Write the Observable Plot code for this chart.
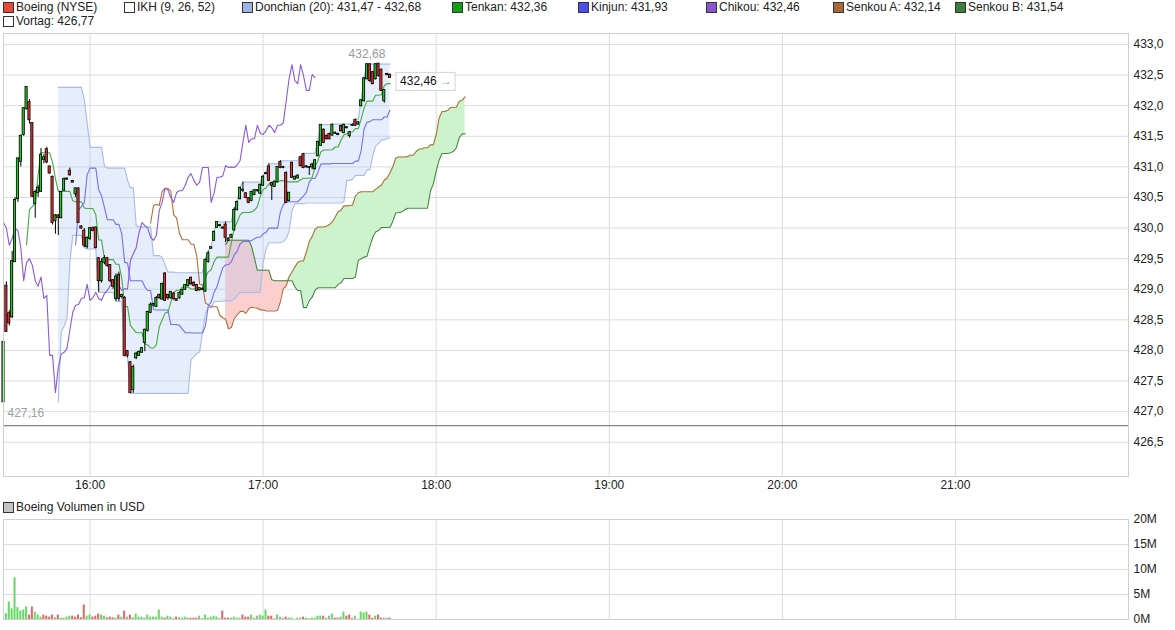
<!DOCTYPE html>
<html><head><meta charset="utf-8">
<script src="https://cdn.jsdelivr.net/npm/d3@7"></script>
<script src="https://cdn.jsdelivr.net/npm/@observablehq/plot@0.6"></script>
<style>
body{margin:0;background:#fff;font-family:"Liberation Sans",Arial,sans-serif;}
#wrap{position:relative;width:1175px;height:630px;overflow:hidden;}
.leg{position:absolute;font-size:12px;color:#222;white-space:nowrap;line-height:14px;z-index:3;}
.sq{position:absolute;width:9px;height:9px;border:1px solid #333;z-index:3;}
#main{position:absolute;left:0;top:0;}
#vol{position:absolute;left:0;top:500px;}
</style></head><body>
<div id="wrap"><div id="main"></div><div id="vol"></div></div>
<script>
// ---------- data ----------
const startUTC = Date.UTC(2024, 0, 2, 15, 30);
const endUTC = Date.UTC(2024, 0, 2, 22, 0);
const hours = [16, 17, 18, 19, 20, 21];
const prevClose = 426.77;
const yTicks = [426.5, 427, 427.5, 428, 428.5, 429, 429.5, 430, 430.5, 431, 431.5, 432, 432.5, 433];
const volTicks = [0, 5, 10, 15, 20];

const open = [
427.16,429.05,428.60,428.55,429.45,430.48,431.09,431.53,431.95,432.05,
431.71,430.40,430.58,430.60,431.12,431.28,431.00,430.83,430.12,430.20,
430.17,430.62,430.80,430.93,430.76,430.56,430.64,430.02,429.95,429.70,
429.83,429.99,430.00,429.50,429.14,429.44,429.50,429.39,429.14,428.85,
429.23,428.88,428.85,427.98,427.80,427.36,427.88,427.92,427.97,428.13,
428.33,428.62,428.74,428.72,428.90,428.84,429.25,428.90,428.86,428.92,
428.83,428.86,428.92,429.00,429.06,429.18,429.10,429.06,428.99,429.00,
428.97,429.45,429.67,429.80,430.01,430.04,430.00,430.05,429.82,429.85,
429.97,430.30,430.48,430.62,430.56,430.48,430.45,430.55,430.61,430.57,
430.70,430.89,431.00,430.73,430.68,430.76,431.07,430.99,430.89,430.45,
431.06,430.80,430.82,431.15,431.20,431.00,430.99,431.00,430.97,431.18,
431.35,431.60,431.50,431.53,431.52,431.55,431.53,431.66,431.56,431.64,
431.51,431.68,431.76,431.70,432.00,432.08,432.44,432.67,432.54,432.44,
432.68,432.58,432.08,432.51,432.50];
const high = [
428.13,429.12,428.65,429.62,430.50,431.15,431.52,431.97,432.30,432.10,
431.72,430.62,430.70,431.30,431.20,431.32,431.01,430.85,430.22,430.22,
430.60,430.82,430.82,430.98,430.78,430.66,430.66,430.04,429.99,429.86,
430.01,430.02,430.02,429.52,429.50,429.55,429.52,429.40,429.16,429.25,
429.28,428.92,428.88,428.00,427.82,427.76,427.97,427.99,428.05,428.35,
428.64,428.78,428.77,428.88,428.92,429.10,429.27,428.92,428.96,428.95,
428.84,428.96,429.00,429.08,429.16,429.20,429.12,429.08,429.02,429.02,
429.50,429.62,429.69,429.95,430.10,430.06,430.02,430.10,429.84,429.90,
430.33,430.44,430.67,430.75,430.58,430.50,430.60,430.63,430.63,430.72,
430.86,430.91,431.05,430.75,430.77,431.00,431.10,431.01,430.92,430.58,
431.08,430.85,430.87,431.17,431.22,431.02,431.00,431.06,431.12,431.42,
431.69,431.62,431.52,431.55,431.70,431.57,431.55,431.68,431.70,431.66,
431.58,431.70,431.78,431.74,432.10,432.46,432.68,432.68,432.56,432.68,
432.68,432.60,432.25,432.53,432.51];
const low = [
427.16,428.30,428.40,428.52,429.44,430.42,431.00,431.50,431.93,431.70,
430.50,430.16,430.50,430.58,431.05,431.05,430.88,430.05,429.90,429.88,
430.15,430.60,430.78,430.85,430.74,430.50,430.08,429.98,429.68,429.66,
429.80,429.94,429.66,428.95,429.10,429.40,429.36,429.10,429.00,428.80,
428.80,428.84,427.90,427.88,427.30,427.30,427.85,427.90,427.95,427.98,
428.30,428.60,428.72,428.70,428.84,428.82,428.80,428.82,428.84,428.82,
428.81,428.84,428.90,428.98,429.04,429.06,429.04,428.96,428.97,428.98,
428.95,429.43,429.66,429.78,430.00,430.02,429.98,429.76,429.78,429.83,
429.95,430.28,430.46,430.58,430.48,430.40,430.43,430.53,430.59,430.55,
430.68,430.87,430.76,430.45,430.66,430.74,430.97,430.97,430.41,430.43,
430.82,430.78,430.80,431.00,430.97,430.98,430.86,430.95,430.95,431.18,
431.34,431.38,431.44,431.44,431.50,431.53,431.51,431.57,431.54,431.62,
431.47,431.66,431.66,431.68,431.98,432.06,432.42,432.38,432.34,432.42,
432.47,432.23,432.04,432.49,432.45];
const close = [
428.13,428.31,428.45,429.45,430.45,431.13,431.50,431.95,432.30,431.77,
430.52,430.58,430.65,431.19,431.15,431.08,430.90,430.09,430.20,430.17,
430.58,430.79,430.80,430.87,430.75,430.64,430.09,430.00,429.72,429.83,
429.99,429.96,429.68,429.14,429.44,429.50,429.39,429.14,429.05,429.20,
428.85,428.90,427.92,427.92,427.31,427.72,427.94,427.97,428.03,428.33,
428.62,428.74,428.75,428.85,428.86,429.08,428.82,428.86,428.95,428.85,
428.82,428.93,428.98,429.06,429.14,429.09,429.06,428.98,429.01,429.00,
429.47,429.58,429.68,429.93,430.09,430.04,430.00,429.85,429.80,429.88,
430.29,430.42,430.65,430.62,430.50,430.42,430.58,430.61,430.61,430.70,
430.83,430.89,430.78,430.70,430.75,430.99,430.99,430.99,430.42,430.57,
430.83,430.83,430.85,431.02,430.99,431.00,430.99,431.03,431.10,431.40,
431.68,431.40,431.46,431.46,431.68,431.55,431.53,431.59,431.68,431.64,
431.56,431.68,431.68,431.72,432.08,432.44,432.67,432.41,432.36,432.67,
432.49,432.25,432.25,432.51,432.46];
// volume in millions USD
const volume = [
25,1.15,3.5,2.15,8.35,2.36,1.68,1.89,2.49,0.88,
2.49,1.48,0.88,0.47,0.88,0.67,0.47,0.88,0.34,0.88,
0.27,0.27,0.47,0.67,0.67,0.47,0.88,0.34,2.9,0.67,
0.88,0.47,0.67,1.08,0.88,0.67,0.34,0.47,0.34,0.27,
0.88,0.47,1.68,0.47,0.88,0.34,1.08,0.47,0.47,0.27,
0.88,0.47,0.47,0.47,1.89,0.47,0.27,0.67,0.47,0.13,
0.47,0.34,0.27,0.47,0.27,0.27,0.27,0.27,0.67,0.13,
0.88,0.27,0.47,0.67,0.47,0.13,1.68,0.27,0.27,0.27,
0.47,0.27,0.27,0.88,0.47,0.47,0.88,0.27,0.67,0.88,
0.67,1.89,0.67,0.67,0.13,0.88,0.47,0.27,0.47,0.27,
0.27,0.05,0.27,0.27,0.47,0.27,0.13,0.27,0.27,0.67,
0.67,0.67,0.27,0.67,1.08,0.27,0.27,0.47,1.48,0.67,
0.88,0.27,0.67,0.05,1.48,1.28,1.48,0.88,0.27,0.67,
0.88,0.27,0.27,0.27,0.27];

const legendItems = [
  {label: "Boeing (NYSE)", color: "#e8473c", x: 3, row: 0},
  {label: "IKH (9, 26, 52)", color: "#ffffff", x: 124, row: 0},
  {label: "Donchian (20): 431,47 - 432,68", color: "#9db4e1", x: 242, row: 0},
  {label: "Tenkan: 432,36", color: "#11a011", x: 452, row: 0},
  {label: "Kinjun: 431,93", color: "#4d4dee", x: 578, row: 0},
  {label: "Chikou: 432,46", color: "#8a55d0", x: 706, row: 0},
  {label: "Senkou A: 432,14", color: "#a8683a", x: 833, row: 0},
  {label: "Senkou B: 431,54", color: "#3d7d3d", x: 955, row: 0},
  {label: "Vortag: 426,77", color: "#ffffff", x: 3, row: 1}
];
const volLegend = {label: "Boeing Volumen in USD", color: "#c4c4c4"};

// ---------- helpers ----------
const T = m => new Date(startUTC + m * 60000);
const hourTicks = hours.map(h => new Date(Date.UTC(2024, 0, 2, h, 0)));
const fmt = v => v.toFixed(2).replace(".", ",");
const N = close.length;
function hl(i, n) {
  let hi = -Infinity, lo = Infinity;
  for (let k = i - n + 1; k <= i; k++) { hi = Math.max(hi, high[k]); lo = Math.min(lo, low[k]); }
  return [hi, lo];
}
const midN = (i, n) => { const [a, b] = hl(i, n); return (a + b) / 2; };

const rows = d3.range(N).map(i => ({
  t: T(i), t1: T(i - 0.38), t2: T(i + 0.38),
  o: open[i], h: high[i], l: low[i], c: close[i]
}));
const tenkan = d3.range(8, N).map(i => ({t: T(i), v: midN(i, 9)}));
const kijun = d3.range(25, N).map(i => ({t: T(i), v: midN(i, 26)}));
const chikou = d3.range(26, N).map(i => ({t: T(i - 26), v: close[i]}));
const senA = d3.range(25, N).map(i => ({t: T(i + 26), v: (midN(i, 9) + midN(i, 26)) / 2}));
const senB = d3.range(51, N).map(i => ({t: T(i + 26), v: midN(i, 52)}));
const cloud = d3.range(51, N).map(i => {
  const a = (midN(i, 9) + midN(i, 26)) / 2, b = midN(i, 52);
  return {t: T(i + 26), b, up: Math.max(a, b), dn: Math.min(a, b)};
});
const don = d3.range(19, N).map(i => { const [hi, lo] = hl(i, 20); return {t: T(i), hi, lo}; });
const maxI = d3.maxIndex(high), minI = d3.minIndex(low);

const vrows = volume.map((v, i) => ({
  t1: T(i - 0.35), t2: T(i + 0.35), v,
  col: i === 0 || close[i] === close[i - 1] ? "#aaaaaa" : (close[i] > close[i - 1] ? "#66d866" : "#e06868")
}));

const style = {fontFamily: '"Liberation Sans", Arial, sans-serif', fontSize: "12px", color: "#222", background: "transparent", overflow: "visible"};
const xDom = [new Date(startUTC), new Date(endUTC)];
const lastText = fmt(close[N - 1]);

const main = Plot.plot({
  width: 1175, height: 500,
  marginTop: 33, marginBottom: 24, marginLeft: 3, marginRight: 47,
  style,
  x: {type: "utc", domain: xDom},
  y: {domain: [425.94, 433.18]},
  color: {type: "identity"},
  marks: [
    Plot.gridY(yTicks, {stroke: "#dcdcdc", strokeOpacity: 1}),
    Plot.gridX(hourTicks, {stroke: "#dcdcdc", strokeOpacity: 1}),
    Plot.areaY(cloud, {x: "t", y1: "b", y2: "up", fill: "#cdf3cd"}),
    Plot.areaY(cloud, {x: "t", y1: "b", y2: "dn", fill: "#fccfcf"}),
    Plot.areaY(don, {x: "t", y1: "lo", y2: "hi", fill: "#a8c0f0", fillOpacity: 0.27}),
    Plot.lineY(don, {x: "t", y: "hi", stroke: "#a9bfe9", strokeWidth: 1.2}),
    Plot.lineY(don, {x: "t", y: "lo", stroke: "#a9bfe9", strokeWidth: 1.2}),
    Plot.ruleY([prevClose], {stroke: "#666"}),
    Plot.lineY(senA, {x: "t", y: "v", stroke: "#b0703a", strokeWidth: 1.1}),
    Plot.lineY(senB, {x: "t", y: "v", stroke: "#3f8a3f", strokeWidth: 1.1}),
    Plot.lineY(chikou, {x: "t", y: "v", stroke: "#8a5ad8", strokeWidth: 1.1}),
    Plot.lineY(kijun, {x: "t", y: "v", stroke: "#7272f2", strokeWidth: 1.1}),
    Plot.lineY(tenkan, {x: "t", y: "v", stroke: "#44aa44", strokeWidth: 1.1}),
    Plot.ruleX(rows, {x: "t", y1: "l", y2: "h", stroke: "#000", strokeWidth: 1}),
    Plot.rect(rows, {x1: "t1", x2: "t2", y1: "o", y2: "c",
      fill: d => d.c >= d.o ? "#1fcc1f" : "#e53333", stroke: "#000", strokeWidth: 0.8,
      insetTop: -0.5, insetBottom: -0.5}),
    Plot.text([maxI], {x: i => T(i), y: i => high[i], text: i => fmt(high[i]), dy: -10, fill: "#9a9a9a"}),
    Plot.text([minI], {x: i => T(i), y: i => low[i], text: i => fmt(low[i]), dy: 11, dx: 4, textAnchor: "start", fill: "#9aa0a6"}),
    Plot.text([N - 1], {x: i => T(i), y: i => close[i], text: () => lastText, dx: 10, dy: 4, textAnchor: "start", fill: "#111"}),
    Plot.frame({stroke: "#cfcfcf"}),
    Plot.axisY(yTicks, {anchor: "right", tickSize: 0, tickPadding: 5, tickFormat: d => d.toFixed(1).replace(".", ","), label: null}),
    Plot.axisX(hourTicks, {tickSize: 0, tickPadding: 4, tickFormat: d3.utcFormat("%H:%M"), label: null})
  ]
});
document.getElementById("main").appendChild(main);

// last price box
const SVGNS = "http://www.w3.org/2000/svg";
const txt = Array.from(main.querySelectorAll("text")).find(t => t.textContent === lastText);
if (txt) {
  const ts = document.createElementNS(SVGNS, "tspan");
  ts.setAttribute("fill", "#aaa"); ts.textContent = " \u2192";
  txt.appendChild(ts);
  const bb = txt.getBBox();
  const tr = txt.getAttribute("transform");
  const r = document.createElementNS(SVGNS, "rect");
  r.setAttribute("x", bb.x - 4); r.setAttribute("y", bb.y - 2);
  r.setAttribute("width", bb.width + 7); r.setAttribute("height", bb.height + 4);
  r.setAttribute("fill", "#fff"); r.setAttribute("stroke", "#d4d4d4");
  if (tr) r.setAttribute("transform", tr);
  txt.parentNode.insertBefore(r, txt);
}

const vol = Plot.plot({
  width: 1175, height: 130,
  marginTop: 19, marginBottom: 11, marginLeft: 3, marginRight: 47,
  style,
  x: {type: "utc", domain: xDom, axis: null},
  y: {domain: [0, 20]},
  color: {type: "identity"},
  marks: [
    Plot.gridY(volTicks, {stroke: "#dcdcdc", strokeOpacity: 1}),
    Plot.gridX(hourTicks, {stroke: "#dcdcdc", strokeOpacity: 1}),
    Plot.rect(vrows, {x1: "t1", x2: "t2", y1: 0, y2: "v", fill: "col", clip: true}),
    Plot.frame({stroke: "#cfcfcf"}),
    Plot.axisY(volTicks, {anchor: "right", tickSize: 0, tickPadding: 5, tickFormat: d => d + "M", label: null})
  ]
});
document.getElementById("vol").appendChild(vol);

// legends
const wrap = document.getElementById("wrap");
function addLeg(label, color, x, top) {
  const s = document.createElement("div");
  s.className = "sq"; s.style.left = x + "px"; s.style.top = (top + 2) + "px"; s.style.background = color;
  wrap.appendChild(s);
  const t = document.createElement("div");
  t.className = "leg"; t.style.left = (x + 13) + "px"; t.style.top = top + "px"; t.textContent = label;
  wrap.appendChild(t);
}
legendItems.forEach(d => addLeg(d.label, d.color, d.x, d.row === 0 ? 0 : 14));
addLeg(volLegend.label, volLegend.color, 3, 500);
</script>
</body></html>
